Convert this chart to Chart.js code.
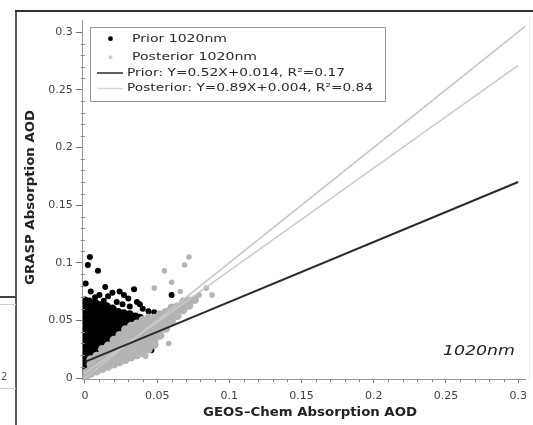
<!DOCTYPE html>
<html><head><meta charset="utf-8">
<style>html,body{margin:0;padding:0;background:#fff;}#wrap{width:533px;height:425px;position:relative;overflow:hidden}</style>
<script src="https://cdn.jsdelivr.net/npm/chart.js@4.4.1/dist/chart.umd.min.js"></script>
</head><body><div id="wrap"><canvas id="c" width="533" height="425"></canvas></div>
<script>
// ---- tick labels ----
const xTickValues = [0, 0.05, 0.1, 0.15, 0.2, 0.25, 0.3];
const xTickLabels = ['0', '0.05', '0.1', '0.15', '0.2', '0.25', '0.3'];
const yTickValues = [0, 0.05, 0.1, 0.15, 0.2, 0.25, 0.3];
const yTickLabels = ['0', '0.05', '0.1', '0.15', '0.2', '0.25', '0.3'];
const minorTickValues = [0.01,0.02,0.03,0.04,0.06,0.07,0.08,0.09,0.11,0.12,0.13,0.14,0.16,0.17,0.18,0.19,0.21,0.22,0.23,0.24,0.26,0.27,0.28,0.29];

// ---- series labels ----
const seriesLabels = ['Prior 1020nm', 'Posterior 1020nm', 'Prior: Y=0.52X+0.014, R\u00b2=0.17', 'Posterior: Y=0.89X+0.004, R\u00b2=0.84'];

// ---- Prior 1020nm scatter (x = GEOS-Chem AAOD, y = GRASP AAOD): dense core + scattered points ----
const priorCore = [
[0.000,0.005],[0.000,0.010],[0.000,0.015],[0.000,0.020],[0.000,0.025],[0.000,0.030],[0.000,0.035],[0.000,0.040],[0.000,0.045],[0.000,0.050],[0.000,0.055],[0.000,0.060],[0.000,0.065],[0.000,0.067],
[0.003,0.009],[0.003,0.014],[0.003,0.019],[0.003,0.024],[0.003,0.029],[0.003,0.034],[0.003,0.039],[0.003,0.044],[0.003,0.049],[0.003,0.054],[0.003,0.059],[0.003,0.064],[0.003,0.066],
[0.007,0.018],[0.007,0.023],[0.007,0.028],[0.007,0.033],[0.007,0.038],[0.007,0.043],[0.007,0.048],[0.007,0.053],[0.007,0.058],[0.007,0.063],[0.007,0.065],
[0.011,0.023],[0.011,0.028],[0.011,0.033],[0.011,0.038],[0.011,0.043],[0.011,0.048],[0.011,0.053],[0.011,0.058],[0.011,0.063],
[0.015,0.028],[0.015,0.033],[0.015,0.038],[0.015,0.043],[0.015,0.048],[0.015,0.053],[0.015,0.058],[0.015,0.062],
[0.019,0.033],[0.019,0.038],[0.019,0.043],[0.019,0.048],[0.019,0.053],[0.019,0.058],[0.019,0.060],
[0.023,0.038],[0.023,0.043],[0.023,0.048],[0.023,0.053],[0.023,0.057],
[0.027,0.043],[0.027,0.048],[0.027,0.053],[0.027,0.056],
[0.031,0.047],[0.031,0.052],[0.031,0.055],
[0.035,0.050],[0.035,0.053],
[0.038,0.052]
];
const priorScatter = [
[0.0034,0.105],[0.002,0.098],[0.009,0.093],[0.0005,0.082],[0.004,0.075],[0.010,0.072],[0.014,0.079],[0.016,0.071],[0.019,0.074],[0.024,0.075],[0.027,0.072],[0.030,0.069],[0.034,0.077],[0.036,0.066],[0.022,0.066],[0.040,0.060],[0.044,0.058],[0.048,0.057],[0.060,0.072],[0.040,0.024],[0.046,0.024],[0.038,0.064],
[0.013,0.067],[0.026,0.064],[0.031,0.062],[0.007,0.070]
];

// ---- Posterior 1020nm scatter: dense band + scattered points ----
const posteriorCore = [
[0.001,0.002],[0.001,0.005],[0.004,0.004],[0.004,0.008],[0.004,0.012],[0.004,0.016],
[0.008,0.006],[0.008,0.010],[0.008,0.014],[0.008,0.019],
[0.012,0.008],[0.012,0.012],[0.012,0.016],[0.012,0.021],[0.012,0.025],
[0.016,0.010],[0.016,0.014],[0.016,0.019],[0.016,0.023],[0.016,0.028],
[0.020,0.012],[0.020,0.016],[0.020,0.021],[0.020,0.025],[0.020,0.030],[0.020,0.033],
[0.024,0.014],[0.024,0.018],[0.024,0.023],[0.024,0.027],[0.024,0.032],[0.024,0.037],
[0.028,0.016],[0.028,0.020],[0.028,0.025],[0.028,0.029],[0.028,0.034],[0.028,0.039],[0.028,0.042],
[0.032,0.018],[0.032,0.022],[0.032,0.027],[0.032,0.031],[0.032,0.036],[0.032,0.041],[0.032,0.045],
[0.036,0.020],[0.036,0.024],[0.036,0.029],[0.036,0.033],[0.036,0.038],[0.036,0.043],[0.036,0.047],
[0.040,0.022],[0.040,0.027],[0.040,0.031],[0.040,0.036],[0.040,0.041],[0.040,0.046],[0.040,0.050],
[0.044,0.025],[0.044,0.029],[0.044,0.034],[0.044,0.038],[0.044,0.043],[0.044,0.048],[0.044,0.052],
[0.048,0.029],[0.048,0.033],[0.048,0.038],[0.048,0.042],[0.048,0.047],[0.048,0.052],
[0.052,0.037],[0.052,0.042],[0.052,0.046],[0.052,0.051],[0.052,0.055],
[0.056,0.043],[0.056,0.048],[0.056,0.052],[0.056,0.057],
[0.060,0.049],[0.060,0.053],[0.060,0.058],[0.060,0.061],
[0.064,0.054],[0.064,0.058],[0.064,0.062],
[0.068,0.059],[0.068,0.063],[0.068,0.066],
[0.072,0.063],[0.072,0.067],
[0.076,0.068]
];
const posteriorScatter = [
[0.072,0.105],[0.055,0.093],[0.069,0.098],[0.060,0.083],[0.048,0.078],[0.084,0.078],[0.058,0.030],[0.042,0.019],[0.088,0.072],[0.066,0.075],[0.079,0.072]
];

// ---- fitted lines (end points) ----
const priorFitX = [0, 0.3];
const priorFitY = [0.014, 0.17];
const postFitX = [0, 0.3];
const postFitY = [0.004, 0.271];
const oneToOneX = [0, 0.306];
const oneToOneY = [0, 0.306];

const toXY = arr => arr.map(p => ({x: p[0], y: p[1]}));
const zipXY = (xs, ys) => xs.map((x, i) => ({x: x, y: ys[i]}));

const COL_PRIOR = '#000000';
const COL_POST = '#b4b4b4';
const COL_PRIOR_LINE = '#2a2a2a';
const COL_POST_LINE = '#cbcbcb';
const COL_ONE = '#c6c6c6';

function fitText(ctx, txt, x, y, w, font, color, rot) {
  ctx.save();
  ctx.font = font; ctx.fillStyle = color; ctx.textBaseline = 'middle'; ctx.textAlign = 'left';
  const nat = ctx.measureText(txt).width;
  ctx.translate(x, y);
  if (rot) ctx.rotate(rot);
  ctx.scale(w / nat, 1);
  ctx.fillText(txt, 0, 0);
  ctx.restore();
}

const decor = {
  id: 'decor',
  beforeDraw(chart) {
    const ctx = chart.ctx;
    ctx.save();
    ctx.strokeStyle = '#333'; ctx.lineWidth = 2;
    ctx.beginPath(); ctx.moveTo(15, 11); ctx.lineTo(533, 11); ctx.stroke();
    ctx.lineWidth = 1.6;
    ctx.beginPath(); ctx.moveTo(16, 10); ctx.lineTo(16, 425); ctx.stroke();
    ctx.lineWidth = 2; ctx.strokeStyle = '#444';
    ctx.beginPath(); ctx.moveTo(0, 297); ctx.lineTo(16, 297); ctx.stroke();
    ctx.lineWidth = 1; ctx.strokeStyle = '#cfcfcf';
    ctx.beginPath(); ctx.moveTo(0, 304.5); ctx.lineTo(16, 304.5); ctx.stroke();
    ctx.beginPath(); ctx.moveTo(0, 388.5); ctx.lineTo(16, 388.5); ctx.stroke();
    ctx.strokeStyle = '#ececec';
    ctx.beginPath(); ctx.moveTo(529.5, 16); ctx.lineTo(529.5, 380); ctx.stroke();
    ctx.fillStyle = '#555'; ctx.font = '10px "DejaVu Sans"'; ctx.textBaseline = 'middle';
    ctx.fillText('2', 1, 377);
    ctx.restore();
  },
  afterDraw(chart) {
    const ctx = chart.ctx;
    const xs = chart.scales.x, ys = chart.scales.y;
    ctx.save();
    ctx.strokeStyle = '#888'; ctx.lineWidth = 1;
    minorTickValues.forEach(v => {
      const py = Math.round(ys.getPixelForValue(v)) + 0.5;
      ctx.beginPath(); ctx.moveTo(ys.right - 2, py); ctx.lineTo(ys.right + 2, py); ctx.stroke();
      const px = Math.round(xs.getPixelForValue(v)) + 0.5;
      ctx.beginPath(); ctx.moveTo(px, xs.top); ctx.lineTo(px, xs.top + 3); ctx.stroke();
    });
    ctx.fillStyle = '#fff'; ctx.strokeStyle = '#999'; ctx.lineWidth = 1;
    ctx.fillRect(90.5, 27.5, 295, 74); ctx.strokeRect(90.5, 27.5, 295, 74);
    const ds = chart.data.datasets;
    ctx.fillStyle = ds[0].backgroundColor;
    ctx.beginPath(); ctx.arc(110.5, 38.7, 2.4, 0, Math.PI * 2); ctx.fill();
    ctx.fillStyle = '#cfcfcf';
    ctx.beginPath(); ctx.arc(110.5, 57.3, 2.0, 0, Math.PI * 2); ctx.fill();
    ctx.lineWidth = 1.5; ctx.strokeStyle = ds[4].borderColor;
    ctx.beginPath(); ctx.moveTo(97, 73); ctx.lineTo(123, 73); ctx.stroke();
    ctx.strokeStyle = '#d8d8d8';
    ctx.beginPath(); ctx.moveTo(97, 88.5); ctx.lineTo(123, 88.5); ctx.stroke();
    const lf = '11px "DejaVu Sans"';
    fitText(ctx, ds[0].label, 132, 38.7, 95, lf, '#2a2a2a');
    fitText(ctx, ds[1].label, 132, 57.3, 125, lf, '#2a2a2a');
    fitText(ctx, ds[4].label, 127, 73, 218, lf, '#2a2a2a');
    fitText(ctx, ds[3].label, 127, 88.5, 246, lf, '#2a2a2a');
    fitText(ctx, 'GEOS\u2013Chem Absorption AOD', 203, 413, 214, 'bold 13px "DejaVu Sans"', '#222');
    fitText(ctx, 'GRASP Absorption AOD', 31, 285, 175, 'bold 13px "DejaVu Sans"', '#222', -Math.PI / 2);
    fitText(ctx, '1020nm', 443, 351, 72, 'italic 14px "DejaVu Sans"', '#222');
    ctx.restore();
  }
};

const priorAll = priorCore.concat(priorScatter);
const postAll = posteriorCore.concat(posteriorScatter);

new Chart(document.getElementById('c'), {
  type: 'scatter',
  data: {
    datasets: [
      {label: seriesLabels[0], data: toXY(priorAll), backgroundColor: COL_PRIOR, borderWidth: 0,
       pointRadius: c => c.dataIndex < priorCore.length ? 4.3 : 3, order: 5},
      {label: seriesLabels[1], data: toXY(postAll), backgroundColor: COL_POST, borderWidth: 0,
       pointRadius: c => c.dataIndex < posteriorCore.length ? 4.3 : 2.8, order: 4},
      {label: '1:1', data: zipXY(oneToOneX, oneToOneY), showLine: true, borderColor: COL_ONE, borderWidth: 1.5, pointRadius: 0, order: 3},
      {label: seriesLabels[3], data: zipXY(postFitX, postFitY), showLine: true, borderColor: COL_POST_LINE, borderWidth: 1.5, pointRadius: 0, order: 2},
      {label: seriesLabels[2], data: zipXY(priorFitX, priorFitY), showLine: true, borderColor: COL_PRIOR_LINE, borderWidth: 2, pointRadius: 0, order: 1}
    ]
  },
  options: {
    responsive: false, animation: false, devicePixelRatio: 1,
    layout: {padding: {left: 0, right: 4.7, top: 20.5, bottom: 0}},
    plugins: {legend: {display: false}, tooltip: {enabled: false}, title: {display: false}},
    scales: {
      x: {
        type: 'linear', min: -0.0015, max: 0.305,
        afterBuildTicks: s => { s.ticks = xTickValues.map(v => ({value: v})); },
        afterFit: s => { s.height = 45.8; },
        ticks: {callback: (v, i) => xTickLabels[i], font: {family: 'DejaVu Sans', size: 11}, color: '#444', padding: 6, maxRotation: 0, autoSkip: false},
        grid: {display: true, drawOnChartArea: false, drawTicks: true, tickLength: 4, tickColor: '#777'},
        border: {display: true, color: '#999', width: 1}
      },
      y: {
        type: 'linear', min: -0.001, max: 0.31,
        afterBuildTicks: s => { s.ticks = yTickValues.map(v => ({value: v})); },
        afterFit: s => { s.width = 82.8; },
        ticks: {callback: (v, i) => yTickLabels[i], font: {family: 'DejaVu Sans', size: 11}, color: '#444', padding: 3, autoSkip: false},
        grid: {display: true, drawOnChartArea: false, drawTicks: true, tickLength: 7, tickColor: '#777'},
        border: {display: true, color: '#999', width: 1}
      }
    }
  },
  plugins: [decor]
});
</script>
</body></html>
